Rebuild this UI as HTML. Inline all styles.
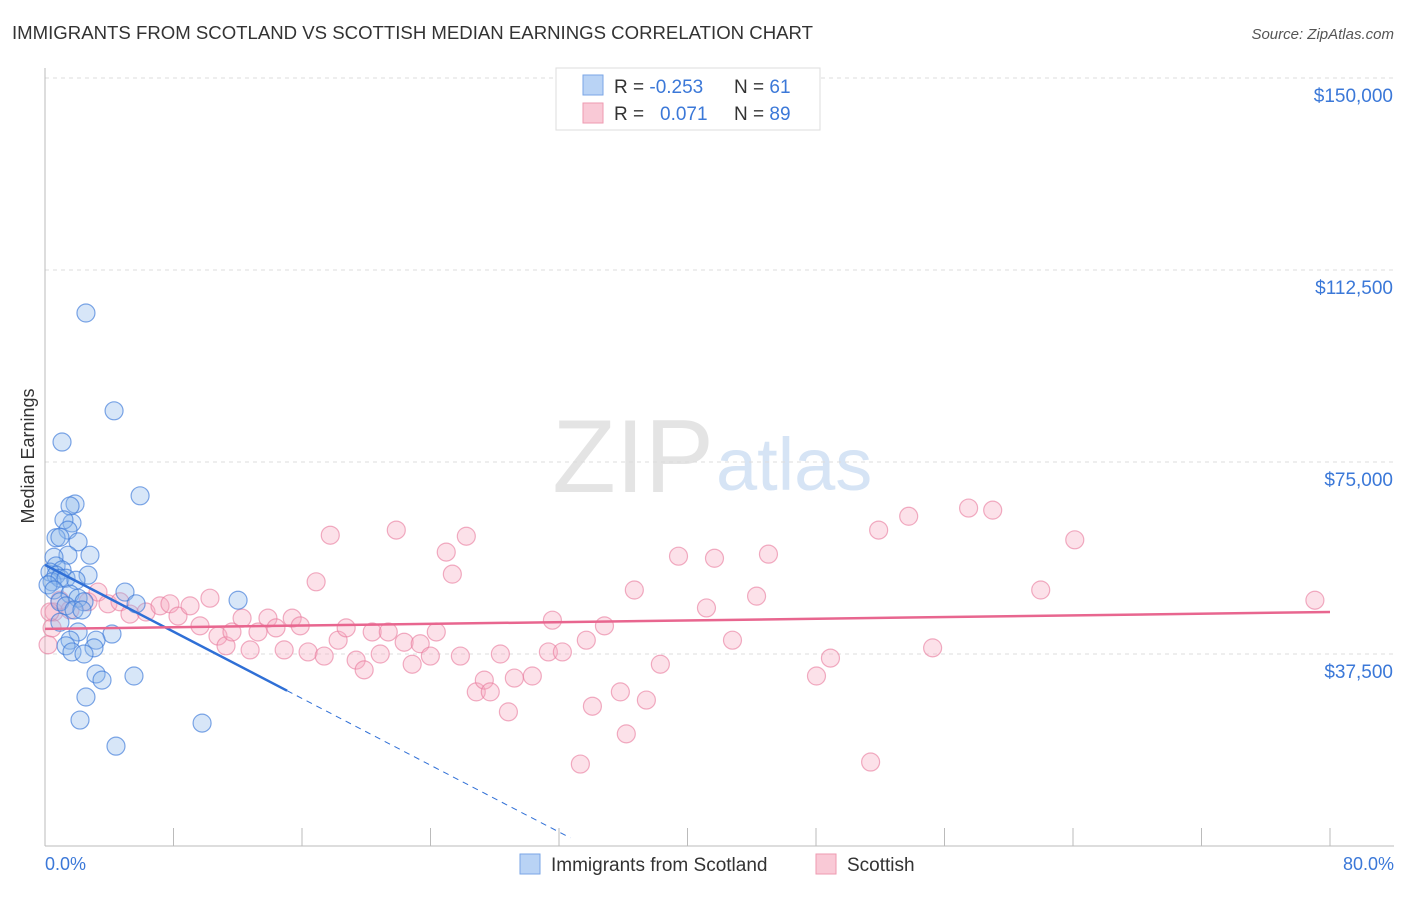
<!DOCTYPE html>
<html><head><meta charset="utf-8"><style>
body{margin:0;background:#fff;font-family:"Liberation Sans",sans-serif;}
svg text{font-family:"Liberation Sans",sans-serif;}
</style></head><body>
<svg id="chart" width="1406" height="892" xmlns="http://www.w3.org/2000/svg">
<text x="12" y="39" font-size="18.6" fill="#333">IMMIGRANTS FROM SCOTLAND VS SCOTTISH MEDIAN EARNINGS CORRELATION CHART</text>
<text x="1394" y="39" font-size="15" fill="#555" font-style="italic" text-anchor="end">Source: ZipAtlas.com</text>
<text x="714" y="492" font-size="104" fill="#e4e4e4" font-family="Liberation Serif" text-anchor="end">ZIP</text>
<text x="716" y="490" font-size="74" fill="#d6e4f5">atlas</text>
<g id="grid"></g><g id="axes"></g><g id="pts"></g><g id="trend"></g>
<text x="34" y="456" font-size="18" fill="#333" transform="rotate(-90 34 456)" text-anchor="middle">Median Earnings</text>
<text x="45" y="870" font-size="18" fill="#3b78d8">0.0%</text>
<text x="1394" y="870" font-size="18" fill="#3b78d8" text-anchor="end">80.0%</text>
<g>
<rect x="556" y="68" width="264" height="62" fill="#fff" stroke="#ddd"/>
<rect x="583" y="75" width="20" height="20" fill="#b9d3f5" stroke="#7aa6e6"/>
<rect x="583" y="103" width="20" height="20" fill="#f9c9d6" stroke="#ee9ab0"/>
<text x="614" y="93" font-size="19" fill="#333">R = <tspan fill="#3b78d8">-0.253</tspan></text>
<text x="734" y="93" font-size="19" fill="#333">N = <tspan fill="#3b78d8"> 61</tspan></text>
<text x="614" y="120" font-size="19" fill="#333">R = <tspan fill="#3b78d8" x="660">0.071</tspan></text>
<text x="734" y="120" font-size="19" fill="#333">N = <tspan fill="#3b78d8">89</tspan></text>
</g>
<g>
<rect x="520" y="854" width="20" height="20" fill="#b9d3f5" stroke="#7aa6e6"/>
<text x="551" y="871" font-size="19" fill="#333">Immigrants from Scotland</text>
<rect x="816" y="854" width="20" height="20" fill="#f9c9d6" stroke="#ee9ab0"/>
<text x="847" y="871" font-size="19" fill="#333">Scottish</text>
</g>
</svg>
<script>
const yTicks=[37500,75000,112500,150000];
const yTickLabels=["$37,500","$75,000","$112,500","$150,000"];
const xTicks=[0,8,16,24,32,40,48,56,64,72,80];
const blueX=[2.55,4.30,1.06,5.92,1.87,1.56,1.68,1.18,1.43,0.69,0.93,2.06,2.80,1.43,0.56,0.69,1.06,0.31,0.69,2.68,0.44,0.93,1.31,1.93,0.19,0.56,1.56,4.98,2.06,0.93,2.43,5.67,1.31,1.81,0.93,2.30,12.02,2.06,4.17,3.18,1.56,1.31,1.68,3.05,2.43,3.18,3.55,5.54,2.55,2.18,9.78,4.42];
const blueY=[104100,85000,78900,68400,66800,66400,63100,63700,61700,60200,60300,59400,56800,56800,56400,54700,53900,53500,52900,52900,51600,52300,52300,51900,51000,50000,49200,49600,48400,47700,47700,47300,46900,46100,43700,46100,48000,41800,41400,40200,40200,39100,37900,38700,37500,33600,32400,33200,29100,24600,24000,19500];
const pinkX=[0.19,0.56,0.44,0.31,0.93,1.56,2.68,3.30,3.92,4.67,5.29,6.29,7.16,7.78,8.28,9.03,9.65,10.27,10.77,11.27,11.64,12.27,12.77,13.26,13.88,14.38,14.89,15.39,15.89,16.38,16.88,17.38,17.76,18.25,18.75,19.37,19.87,20.37,20.87,21.37,21.87,22.36,22.86,23.36,23.99,24.36,24.98,25.36,25.86,26.23,26.85,27.35,27.72,28.35,28.85,29.22,30.34,31.34,31.59,32.21,33.33,33.70,34.08,34.83,35.82,36.19,36.69,37.44,38.31,39.44,41.18,41.68,42.80,44.30,45.04,48.03,48.90,51.40,51.90,53.77,55.26,57.50,59.00,61.99,64.11,79.06];
const pinkY=[39300,45700,42600,45700,48000,46100,47700,49600,47300,47700,45300,45700,46900,47300,44900,46900,43000,48400,41000,39100,41800,44500,38300,41800,44500,42600,38300,44500,43000,37900,51600,37100,60700,40200,42600,36300,34400,41800,37500,41800,61700,39800,35500,39500,37100,41800,57400,53100,37100,60500,30100,32400,30100,37500,26200,32800,33200,37900,44100,37900,16000,40200,27300,43000,30100,21900,50000,28500,35500,56600,46500,56200,40200,48800,57000,33200,36700,16400,61700,64400,38700,66000,65600,50000,59800,48000];
const blueTrend=[54900,-1630];
const pinkTrend=[42400,41.3];
const NS="http://www.w3.org/2000/svg";
const X=v=>45+v/80*1285, Y=v=>846-v/37500*192;
function mk(tag,attrs,parent){const e=document.createElementNS(NS,tag);for(const k in attrs)e.setAttribute(k,attrs[k]);document.getElementById(parent).appendChild(e);return e;}
yTicks.forEach((t,i)=>{
 const l=mk('line',{x1:45,x2:1394,y1:Y(t),y2:Y(t),stroke:'#ddd','stroke-dasharray':'4,4'},'grid');
 
 
 const tx=mk('text',{x:1393,y:Y(t)+24,'font-size':19,fill:'#3b78d8','text-anchor':'end'},'grid');
 tx.textContent=yTickLabels[i];
 
 
});
const ax=mk('line',{x1:45,x2:45,y1:68,y2:846,stroke:'#bbb'},'axes');


const bx=mk('line',{x1:45,x2:1394,y1:846,y2:846,stroke:'#bbb'},'axes');


xTicks.forEach(t=>{
 const l=mk('line',{x1:X(t),x2:X(t),y1:828,y2:846,stroke:'#bbb'},'axes');
 
 
});
pinkX.forEach((x,i)=>{
 const c=mk('circle',{cx:X(x),cy:Y(pinkY[i]),r:9,fill:'rgba(246,170,193,0.35)',stroke:'rgba(232,120,155,0.6)','stroke-width':1.2},'pts');
 
 
});
blueX.forEach((x,i)=>{
 const c=mk('circle',{cx:X(x),cy:Y(blueY[i]),r:9,fill:'rgba(140,182,236,0.35)',stroke:'rgba(59,120,216,0.65)','stroke-width':1.2},'pts');
 
 
});
const bt=v=>blueTrend[0]+blueTrend[1]*v, pt=v=>pinkTrend[0]+pinkTrend[1]*v;
const l1=mk('line',{x1:X(0),y1:Y(bt(0)),x2:X(15.07),y2:Y(bt(15.07)),stroke:'#2f6fd6','stroke-width':2.5},'trend');


const l2=mk('line',{x1:X(15.07),y1:Y(bt(15.07)),x2:X(32.7),y2:Y(bt(32.7)),stroke:'#2f6fd6','stroke-width':1,'stroke-dasharray':'6,5'},'trend');


const l3=mk('line',{x1:X(0),y1:Y(pt(0)),x2:X(80),y2:Y(pt(80)),stroke:'#e8668f','stroke-width':2.5},'trend');


</script>
</body></html>
